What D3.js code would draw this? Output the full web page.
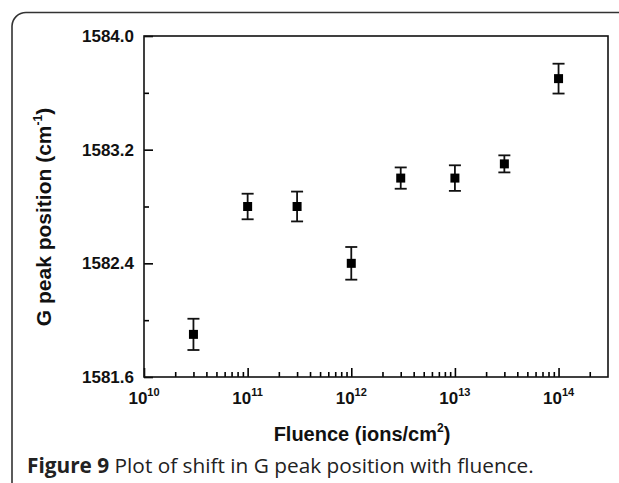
<!DOCTYPE html>
<html>
<head>
<meta charset="utf-8">
<script src="https://cdn.jsdelivr.net/npm/d3@7"></script>
<style>
  body { margin: 0; background: #fff; }
  svg { display: block; }
</style>
</head>
<body>
<div id="chart"></div>
<script>
// data
var fluence = [3e10, 1e11, 3e11, 1e12, 3e12, 1e13, 3e13, 1e14];
var gPeak   = [1581.90, 1582.80, 1582.80, 1582.40, 1583.00, 1583.00, 1583.10, 1583.70];
var gErr    = [0.11, 0.09, 0.105, 0.115, 0.075, 0.09, 0.06, 0.105];

var yMajor = [1581.6, 1582.4, 1583.2, 1584.0];
var yMinor = [1582.0, 1582.8, 1583.6];
var xDecades = [10, 11, 12, 13, 14];

var W = 619, H = 483;
var margin = {top: 36, right: 11, bottom: 106, left: 144},
    width = W - margin.left - margin.right,
    height = H - margin.top - margin.bottom;

var svg = d3.select("#chart")
    .append("svg")
        .attr("width", W)
        .attr("height", H);

// outer figure frame (rounded top-left corner)
svg.append("path")
    .attr("d", "M12," + (H + 5) + " V26 A14,14 0 0 1 26,12.5 H" + (W + 5))
    .attr("fill", "none")
    .attr("stroke", "#333")
    .attr("stroke-width", 1.6);

var g = svg.append("g")
    .attr("transform", "translate(" + margin.left + "," + margin.top + ")");

var x = d3.scaleLog()
    .domain([1e10, 3e14])
    .range([0, width]);

var y = d3.scaleLinear()
    .domain([1581.6, 1584.0])
    .range([height, 0]);

var font = "'Liberation Sans', Arial, sans-serif";

// minor x ticks
var xMinor = [];
for (var e = 10; e <= 14; e++) {
    for (var m = 2; m <= 9; m++) {
        var v = m * Math.pow(10, e);
        if (v < 3e14) xMinor.push(v);
    }
}

g.append("g")
    .attr("transform", "translate(0," + height + ")")
    .call(d3.axisBottom(x).tickValues(xMinor).tickSize(-5).tickFormat(""))
    .call(a => a.select(".domain").remove())
    .selectAll("line").attr("stroke-width", 1.6);

g.append("g")
    .attr("transform", "translate(0," + height + ")")
    .call(d3.axisBottom(x)
        .tickValues(xDecades.map(function(d){ return Math.pow(10, d); }))
        .tickSize(-9).tickSizeOuter(0).tickFormat(""))
    .call(a => a.select(".domain").remove())
    .selectAll("line").attr("stroke-width", 1.6);

// x tick labels 10^n
g.selectAll(".xlab")
    .data(xDecades)
    .enter()
    .append("text")
        .attr("class", "xlab")
        .attr("x", function(d){ return x(Math.pow(10, d)); })
        .attr("y", height + 27)
        .attr("text-anchor", "middle")
        .style("font-family", font)
        .style("font-weight", "bold")
        .style("font-size", "17px")
        .attr("fill", "#111")
        .each(function(d) {
            var t = d3.select(this);
            t.append("tspan").text("10");
            t.append("tspan").attr("dy", -8).style("font-size", "11px").text(d);
        });

// y axis
g.append("g")
    .call(d3.axisLeft(y).tickValues(yMinor).tickSize(-5).tickFormat(""))
    .call(a => a.select(".domain").remove())
    .selectAll("line").attr("stroke-width", 1.6);

g.append("g")
    .call(d3.axisLeft(y).tickValues(yMajor).tickSize(-9).tickPadding(10)
        .tickFormat(d3.format(".1f")))
    .call(a => a.select(".domain").remove())
    .call(a => a.selectAll("line").attr("stroke-width", 1.6))
    .selectAll("text")
        .style("font-family", font)
        .style("font-weight", "bold")
        .style("font-size", "17px")
        .attr("fill", "#111");

// plot frame
g.append("rect")
    .attr("width", width)
    .attr("height", height)
    .attr("fill", "none")
    .attr("stroke", "#111")
    .attr("stroke-width", 1.6);

// error bars and squares
var pts = fluence.map(function(f, i){ return {f: f, v: gPeak[i], e: gErr[i]}; });

var bars = g.selectAll(".pt")
    .data(pts)
    .enter()
    .append("g")
        .attr("class", "pt");

bars.append("line")
    .attr("x1", function(d){ return x(d.f); })
    .attr("x2", function(d){ return x(d.f); })
    .attr("y1", function(d){ return y(d.v + d.e); })
    .attr("y2", function(d){ return y(d.v - d.e); })
    .attr("stroke", "#111").attr("stroke-width", 1.8);

[1, -1].forEach(function(s) {
    bars.append("line")
        .attr("x1", function(d){ return x(d.f) - 6; })
        .attr("x2", function(d){ return x(d.f) + 6; })
        .attr("y1", function(d){ return y(d.v + s * d.e); })
        .attr("y2", function(d){ return y(d.v + s * d.e); })
        .attr("stroke", "#111").attr("stroke-width", 1.8);
});

bars.append("rect")
    .attr("x", function(d){ return x(d.f) - 4.5; })
    .attr("y", function(d){ return y(d.v) - 4.5; })
    .attr("width", 9)
    .attr("height", 9)
    .attr("fill", "#000");

// axis titles
svg.append("text")
    .attr("x", 362)
    .attr("y", 441)
    .attr("text-anchor", "middle")
    .style("font-family", font)
    .style("font-weight", "bold")
    .style("font-size", "20px")
    .attr("fill", "#111")
    .call(function(t) {
        t.append("tspan").text("Fluence (ions/cm");
        t.append("tspan").attr("dy", -9).style("font-size", "12px").text("2");
        t.append("tspan").attr("dy", 9).text(")");
    });

svg.append("text")
    .attr("transform", "translate(51,217) rotate(-90)")
    .attr("text-anchor", "middle")
    .style("font-family", font)
    .style("font-weight", "bold")
    .style("font-size", "21px")
    .attr("fill", "#111")
    .call(function(t) {
        t.append("tspan").text("G peak position (cm");
        t.append("tspan").attr("dy", -9).style("font-size", "12px").text("-1");
        t.append("tspan").attr("dy", 9).text(")");
    });

// caption
svg.append("text")
    .attr("x", 27)
    .attr("y", 473)
    .style("font-family", "'Open Sans', sans-serif")
    .style("font-size", "20.8px")
    .attr("fill", "#222")
    .call(function(t) {
        t.append("tspan").style("font-weight", "bold").text("Figure 9");
        t.append("tspan").text(" Plot of shift in G peak position with fluence.");
    });
</script>
</body>
</html>
